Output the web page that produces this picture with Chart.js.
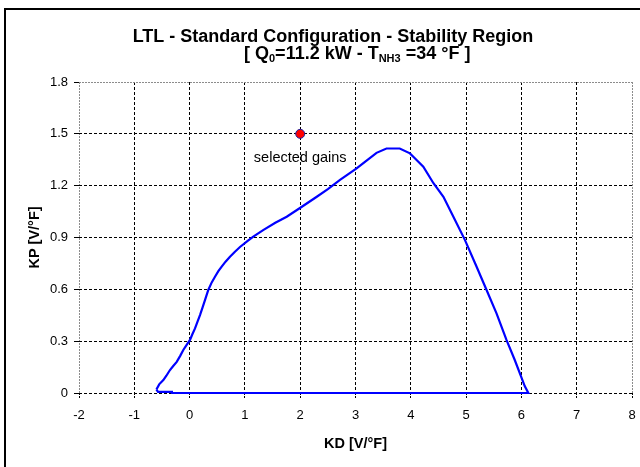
<!DOCTYPE html>
<html>
<head>
<meta charset="utf-8">
<script src="https://cdn.jsdelivr.net/npm/chart.js@4/dist/chart.umd.min.js"></script>
<style>
    html, body { margin: 0; padding: 0; background: #fff; }
    #wrap { width: 640px; height: 467px; }
</style>
</head>
<body>
<div id="wrap"><canvas id="StabChart" width="640" height="467"></canvas></div>
<script>
// stability boundary (KD, KP), traced as a closed loop
const boundaryKD = [-0.60, -0.55, -0.475, -0.42, -0.355, -0.30, -0.233, -0.17, -0.114, -0.05,
    0.007, 0.05, 0.098, 0.14, 0.188, 0.235, 0.278, 0.338, 0.40, 0.459,
    0.52, 0.58, 0.65, 0.73, 0.82, 0.911, 1.05, 1.152, 1.33, 1.55,
    1.756, 2.03, 2.30, 2.50, 2.72, 3.02, 3.20, 3.38, 3.56, 3.80,
    3.985, 4.10, 4.226, 4.41, 4.59, 4.77, 4.98, 5.19, 5.37, 5.55,
    5.73, 5.88, 6.00, 6.06, 6.125, -0.32, -0.32, -0.57, -0.60];
const boundaryKP = [0.02, 0.05, 0.075, 0.10, 0.133, 0.155, 0.18, 0.215, 0.249, 0.28,
    0.307, 0.34, 0.374, 0.41, 0.451, 0.495, 0.538, 0.596, 0.64, 0.673,
    0.705, 0.731, 0.76, 0.789, 0.818, 0.845, 0.88, 0.905, 0.943, 0.985,
    1.02, 1.078, 1.136, 1.18, 1.233, 1.30, 1.345, 1.39, 1.415, 1.415,
    1.387, 1.35, 1.31, 1.214, 1.136, 1.02, 0.885, 0.731, 0.596, 0.461,
    0.307, 0.191, 0.09, 0.04, 0, 0, 0.006, 0.006, 0.02];

// selected gains
const selectedKD = [2];
const selectedKP = [1.5];
const selectedLabel = "selected gains";

// axes
const xMin = -2, xMax = 8, xStep = 1;
const yMin = 0, yMax = 1.8, yStep = 0.3;
const xTitle = "KD [V/°F]";
const yTitle = "KP [V/°F]";
const titleLine1 = "LTL - Standard Configuration - Stability Region";
// second title line in pieces: [text, isSubscript]
const titleLine2 = [["[ Q", false], ["0", true], ["=11.2 kW - T", false], ["NH3", true], [" =34 °F ]", false]];

const FONT = "'Liberation Sans', Arial, sans-serif";
const gridBlack = "#000000";
const gridGray = "#8c8c8c";

var boundary = [], selected = [];
for (let i = 0; i < boundaryKD.length; i++) {
    boundary.push({x: boundaryKD[i], y: boundaryKP[i]});
}
for (let i = 0; i < selectedKD.length; i++) {
    selected.push({x: selectedKD[i], y: selectedKP[i]});
}

function isEdge(v, lo, hi) {
    return Math.abs(v - lo) < 1e-6 || Math.abs(v - hi) < 1e-6;
}

//background, frame, title and point label
const decorPlugin = {
    id: "decor",
    beforeDraw(chart) {
        const ctx = chart.ctx;
        ctx.save();
        ctx.fillStyle = "#fff";
        ctx.fillRect(0, 0, chart.width, chart.height);
        ctx.strokeStyle = "#000";
        ctx.lineWidth = 2;
        ctx.beginPath();
        ctx.moveTo(5, chart.height + 2);
        ctx.lineTo(5, 9);
        ctx.lineTo(chart.width + 2, 9);
        ctx.stroke();
        ctx.restore();
    },
    afterDraw(chart) {
        const ctx = chart.ctx;
        ctx.save();
        ctx.fillStyle = "#000";
        ctx.textBaseline = "alphabetic";
        ctx.font = "bold 18px " + FONT;
        ctx.textAlign = "center";
        ctx.fillText(titleLine1, 333, 42);

        ctx.textAlign = "left";
        let x = 244;
        for (const [txt, sub] of titleLine2) {
            ctx.font = sub ? "bold 11px " + FONT : "bold 18px " + FONT;
            ctx.fillText(txt, x, sub ? 62 : 58.5);
            x += ctx.measureText(txt).width;
        }

        const xs = chart.scales.x, ys = chart.scales.y;
        ctx.font = "14.5px " + FONT;
        ctx.textAlign = "center";
        ctx.textBaseline = "middle";
        ctx.fillText(selectedLabel, xs.getPixelForValue(selectedKD[0]), ys.getPixelForValue(selectedKP[0]) + 24);
        ctx.restore();
    }
};

var config = {
    type: "scatter",
    data: {
        datasets: [
            {
                label: "stability boundary",
                data: boundary,
                showLine: true,
                borderColor: "#0000ff",
                borderWidth: 2.2,
                pointRadius: 0,
                fill: false,
                tension: 0,
                clip: false
            },
            {
                label: "selected gains",
                data: selected,
                pointRadius: 4.5,
                pointBackgroundColor: "#ff0000",
                pointBorderColor: "#2020a0",
                pointBorderWidth: 1,
                clip: false
            }
        ]
    },
    options: {
        responsive: false,
        animation: false,
        devicePixelRatio: 1,
        layout: { padding: { left: 0, top: 82, right: 8, bottom: 0 } },
        plugins: {
            legend: { display: false },
            tooltip: { enabled: false },
            title: { display: false }
        },
        scales: {
            x: {
                type: "linear",
                min: xMin,
                max: xMax,
                afterFit: s => { s.height = 74; s.paddingLeft = 0; s.paddingRight = 0; },
                ticks: {
                    stepSize: xStep,
                    color: "#000",
                    padding: 10,
                    font: { family: FONT, size: 13 }
                },
                grid: {
                    color: c => (c.tick && isEdge(c.tick.value, xMin, xMax)) ? gridGray : gridBlack,
                    lineWidth: 1,
                    tickLength: 5,
                    tickColor: "#000",
                    tickBorderDash: [2, 1]
                },
                border: {
                    display: false,
                    dash: c => (c.tick && isEdge(c.tick.value, xMin, xMax)) ? [2, 1] : [3, 2]
                },
                title: {
                    display: true,
                    text: xTitle,
                    color: "#000",
                    padding: { top: 0, bottom: 14 },
                    font: { family: FONT, size: 14.5, weight: "bold" }
                }
            },
            y: {
                type: "linear",
                min: yMin,
                max: yMax,
                afterFit: s => { s.width = 79; s.paddingTop = 0; s.paddingBottom = 0; },
                ticks: {
                    stepSize: yStep,
                    color: "#000",
                    padding: 6,
                    font: { family: FONT, size: 13 },
                    callback: v => String(Math.round(v * 10) / 10)
                },
                grid: {
                    color: c => (c.tick && Math.abs(c.tick.value - yMax) < 1e-6) ? gridGray : gridBlack,
                    lineWidth: 1,
                    tickLength: 5,
                    tickColor: "#000"
                },
                border: {
                    display: false,
                    dash: c => (c.tick && Math.abs(c.tick.value - yMax) < 1e-6) ? [2, 1] : [3, 2]
                },
                title: {
                    display: true,
                    text: yTitle,
                    color: "#000",
                    padding: { top: 26, bottom: 0 },
                    font: { family: FONT, size: 14.5, weight: "bold" }
                }
            }
        }
    },
    plugins: [decorPlugin]
};

var canvasElement = document.getElementById("StabChart");
window.stabChart = new Chart(canvasElement, config);
</script>
</body>
</html>
